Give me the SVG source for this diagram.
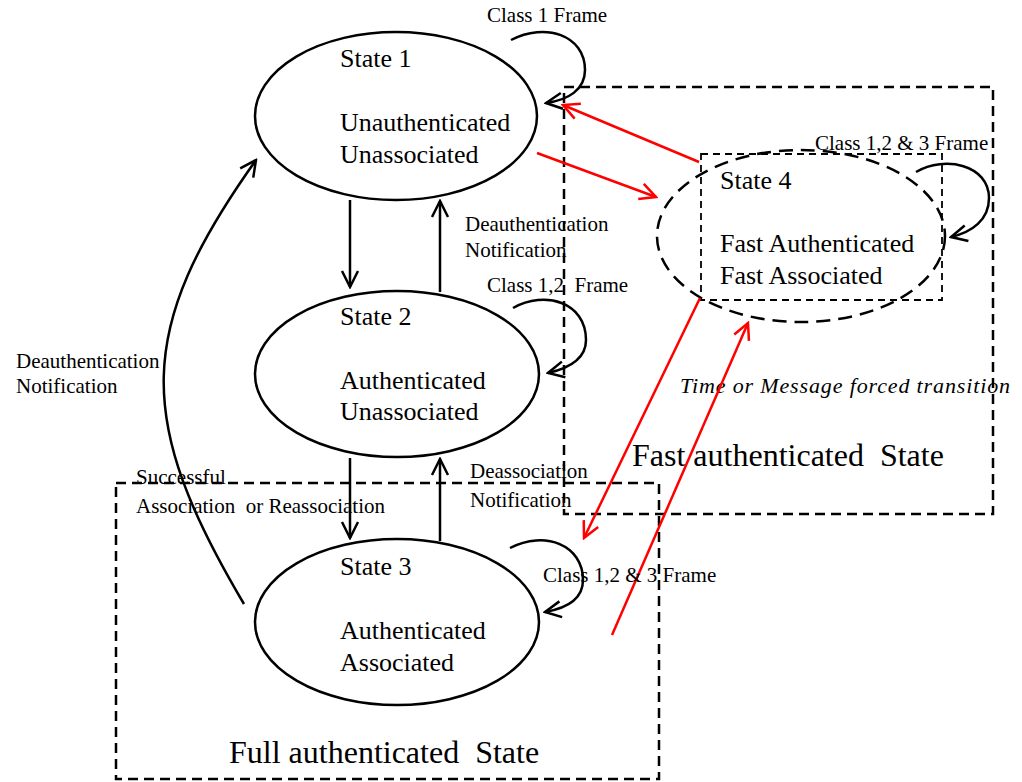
<svg xmlns="http://www.w3.org/2000/svg" width="1022" height="782" viewBox="0 0 1022 782">
<style>
.st{fill:none;stroke:#000;stroke-width:2.5}
.box{fill:none;stroke:#000;stroke-width:2.5;stroke-dasharray:10 6}
.ibox{fill:none;stroke:#000;stroke-width:1.8;stroke-dasharray:7 5}
.dell{fill:none;stroke:#000;stroke-width:2.5;stroke-dasharray:14 8}
.ln{fill:none;stroke:#000;stroke-width:2.5}
.rd{fill:none;stroke:#f00;stroke-width:2.5}
text{font-family:"Liberation Serif","Times New Roman",serif;fill:#000;white-space:pre}
.s{font-size:26px}
.l{font-size:21px}
.b{font-size:32px}
.i{font-size:22px;font-style:italic}
</style>
<defs>
<marker id="ab" viewBox="0 0 20 20" refX="18" refY="10" markerWidth="20" markerHeight="20" markerUnits="userSpaceOnUse" orient="auto">
<path d="M2,2 L18,10 L2,18" fill="none" stroke="#000" stroke-width="2.5"/>
</marker>
<marker id="ar" viewBox="0 0 20 20" refX="18" refY="10" markerWidth="20" markerHeight="20" markerUnits="userSpaceOnUse" orient="auto">
<path d="M2,2 L18,10 L2,18" fill="none" stroke="#f00" stroke-width="2.5"/>
</marker>
</defs>

<g id="fast-region">
<rect class="box" x="564" y="87" width="429" height="427"/>
<text class="i" x="680" y="393" textLength="330" lengthAdjust="spacing">Time or Message forced transition</text>
<text class="b" x="632" y="466">Fast authenticated  State</text>
</g>

<g id="full-region">
<rect class="box" x="116" y="483" width="543" height="296"/>
<text class="b" x="229" y="763">Full authenticated  State</text>
</g>

<g id="state1">
<ellipse class="st" cx="396" cy="116" rx="141" ry="84"/>
<text class="s" x="340" y="67">State 1</text>
<text class="s" x="340" y="131">Unauthenticated</text>
<text class="s" x="340" y="163">Unassociated</text>
</g>

<g id="state2">
<ellipse class="st" cx="397" cy="374" rx="142" ry="83"/>
<text class="s" x="340" y="325">State 2</text>
<text class="s" x="340" y="389">Authenticated</text>
<text class="s" x="340" y="420">Unassociated</text>
</g>

<g id="state3">
<ellipse class="st" cx="397" cy="622" rx="142" ry="83"/>
<text class="s" x="340" y="575">State 3</text>
<text class="s" x="340" y="639">Authenticated</text>
<text class="s" x="340" y="671">Associated</text>
</g>

<g id="state4">
<ellipse class="dell" cx="801" cy="236" rx="144" ry="86"/>
<rect class="ibox" x="701" y="154" width="241" height="146"/>
<text class="s" x="720" y="189">State 4</text>
<text class="s" x="720" y="252">Fast Authenticated</text>
<text class="s" x="720" y="284">Fast Associated</text>
</g>

<g id="connectors">
<path class="ln" d="M350,200 L350,287" marker-end="url(#ab)"/>
<path class="ln" d="M440,292 L440,201" marker-end="url(#ab)"/>
<path class="ln" d="M350,458 L350,538" marker-end="url(#ab)"/>
<path class="ln" d="M440,541 L440,459" marker-end="url(#ab)"/>
<path class="ln" d="M244,604 C135,420 135,330 256,160" marker-end="url(#ab)"/>
<path class="ln" d="M511,40 C545,22 585,35 585,70 C585,90 568,100 546,103" marker-end="url(#ab)"/>
<path class="ln" d="M513,308 C545,290 586,302 586,340 C586,358 570,368 548,373" marker-end="url(#ab)"/>
<path class="ln" d="M510,548 C545,530 583,545 583,580 C583,598 568,608 545,612" marker-end="url(#ab)"/>
<path class="ln" d="M916,172 C945,155 989,165 989,198 C989,220 972,232 951,237" marker-end="url(#ab)"/>
<path class="rd" d="M699,162 L563,105" marker-end="url(#ar)"/>
<path class="rd" d="M537,153 L656,197" marker-end="url(#ar)"/>
<path class="rd" d="M700,298 L584,538" marker-end="url(#ar)"/>
<path class="rd" d="M612,635 L748,323" marker-end="url(#ar)"/>
</g>

<g id="labels">
<text class="l" x="487" y="22">Class 1 Frame</text>
<text class="l" x="815" y="150">Class 1,2 &amp; 3 Frame</text>
<text class="l" x="465" y="231">Deauthentication</text>
<text class="l" x="465" y="257">Notification</text>
<text class="l" x="487" y="292">Class 1,2  Frame</text>
<text class="l" x="16" y="368">Deauthentication</text>
<text class="l" x="16" y="393">Notification</text>
<text class="l" x="136" y="484">Successful</text>
<text class="l" x="136" y="513">Association  or Reassociation</text>
<text class="l" x="470" y="478">Deassociation</text>
<text class="l" x="470" y="507">Notification</text>
<text class="l" x="543" y="582">Class 1,2 &amp; 3 Frame</text>
</g>
</svg>
